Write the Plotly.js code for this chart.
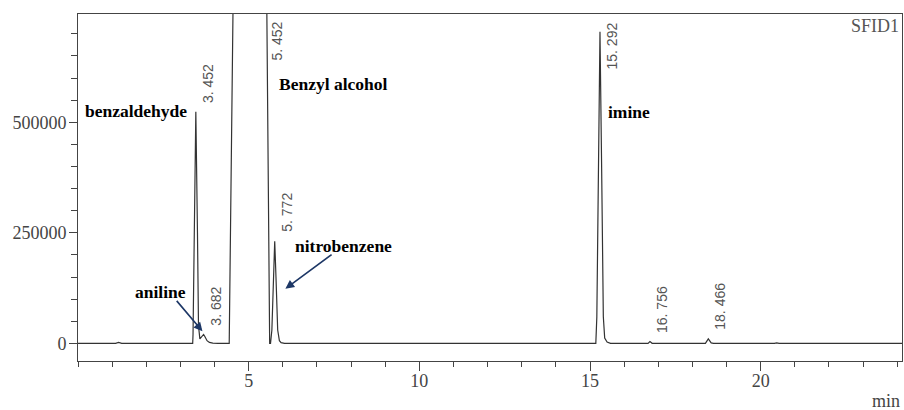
<!DOCTYPE html>
<html>
<head>
<meta charset="utf-8">
<script src="https://cdn.plot.ly/plotly-3.0.1.min.js"></script>
<style>html,body{margin:0;padding:0;background:#fff}#chart{width:904px;height:410px}</style>
</head>
<body>
<div id="chart"></div>
<script>
// Chromatogram trace (retention time in min, signal)
const timeMin = [0, 1.10, 1.19, 1.28, 3.30, 3.36, 3.37, 3.40, 3.452, 3.50, 3.53, 3.57, 3.62, 3.68, 3.72, 3.78, 3.85, 3.95, 4.10,
  4.43, 4.545, 4.80, 5.452, 5.48, 5.531, 5.615, 5.64, 5.68, 5.72, 5.763, 5.80, 5.85, 5.90, 5.95, 6.05,
  7.30, 7.39, 7.48, 10.30, 10.40, 10.50, 10.55, 10.60, 10.65,
  15.10, 15.17, 15.20, 15.25, 15.292, 15.34, 15.39, 15.43, 15.50, 15.60,
  16.70, 16.756, 16.82, 18.38, 18.466, 18.55, 18.62,
  20.40, 20.47, 20.54, 20.72, 20.77, 20.82, 23.38, 23.44, 23.52, 24.20];
const signal = [0, 0, 2000, 0, 0, 0, 20000, 250000, 524000, 250000, 40000, 10000, 15000, 20000, 15000, 6000, 2000, 500, 0,
  0, 780000, 1500000, 2500000, 1500000, 760000, 0, 0, 30000, 150000, 231000, 150000, 30000, 6000, 1500, 0,
  0, 1500, 0, 0, 1500, 0, 1200, 0, 0,
  0, 0, 60000, 450000, 705000, 400000, 60000, 12000, 3000, 0,
  0, 4000, 0, 0, 10000, 1000, 0,
  0, 1200, 0, 0, 1200, 0, 0, 1500, 0, 0];

// Integrated peak labels
const peakTimes = [3.452, 3.682, 5.452, 5.772, 15.292, 16.756, 18.466];
const peakApex = [524000, 20000, 2500000, 231000, 705000, 4000, 10000];
const peakLabels = ['3. 452', '3. 682', '5. 452', '5. 772', '15. 292', '16. 756', '18. 466'];

// Compound names
const compoundNames = ['benzaldehyde', 'aniline', 'Benzyl alcohol', 'nitrobenzene', 'imine'];

// Axis ticks
const yTickVals = [0, 250000, 500000];
const yTickText = ['0', '250000', '500000'];
const xTickVals = [5, 10, 15, 20];
const xTickText = ['5', '10', '15', '20'];

const yRange = [-40000, 745000];
const xRange = [0, 24.14];

const annotations = [];
peakTimes.forEach((t, i) => {
  const clamp = peakApex[i] > 600000;
  const a = {
    x: t, xref: 'x', xshift: 12, xanchor: 'center',
    text: peakLabels[i], textangle: -90, showarrow: false,
    font: {family: 'Liberation Sans, Arial, sans-serif', size: 14, color: '#555'}
  };
  if (clamp) { a.yref = 'paper'; a.y = 1; a.yanchor = 'top'; a.yshift = -6; }
  else { a.yref = 'y'; a.y = peakApex[i]; a.yanchor = 'bottom'; a.yshift = 7; }
  annotations.push(a);
});

const nameFont = {family: 'Liberation Serif, Times New Roman, serif', size: 17.5, color: '#000', weight: 'bold'};
const namePos = [
  {x: 3.26, y: 526000, xanchor: 'right'},
  {x: 1.60, y: 117000, xanchor: 'left'},
  {x: 5.83, y: 587000, xanchor: 'left'},
  {x: 6.29, y: 221000, xanchor: 'left'},
  {x: 15.47, y: 524000, xanchor: 'left'}
];
compoundNames.forEach((n, i) => {
  annotations.push(Object.assign({xref: 'x', yref: 'y', yanchor: 'middle', text: '<b>' + n + '</b>', showarrow: false, font: nameFont}, namePos[i]));
});

// arrows (head -> tail)
const arrowColor = '#1d3766';
[[3.646, 27100, 2.855, 99400], [6.076, 123500, 7.473, 203300]].forEach(p => {
  annotations.push({x: p[0], y: p[1], ax: p[2], ay: p[3], xref: 'x', yref: 'y', axref: 'x', ayref: 'y',
    text: '', showarrow: true, arrowhead: 2, arrowsize: 1.1, arrowwidth: 1.6, arrowcolor: arrowColor, standoff: 0, startstandoff: 0});
});

annotations.push({xref: 'paper', yref: 'paper', x: 1, y: 1, xanchor: 'right', yanchor: 'top', xshift: -1, yshift: 0,
  text: 'SFID1', showarrow: false, font: {family: 'Liberation Serif, serif', size: 18, color: '#555'}});
annotations.push({xref: 'paper', yref: 'paper', x: 1, y: 0, xanchor: 'right', yanchor: 'middle', xshift: 0, yshift: -40,
  text: 'min', showarrow: false, font: {family: 'Liberation Serif, serif', size: 18, color: '#444'}});

const trace = {
  x: timeMin, y: signal, type: 'scatter', mode: 'lines',
  line: {color: '#333', width: 1.2}, hoverinfo: 'skip'
};

const tickFont = {family: 'Liberation Serif, Times New Roman, serif', size: 18, color: '#444'};

const layout = {
  width: 904, height: 410,
  margin: {l: 78, r: 2, t: 14, b: 49},
  paper_bgcolor: '#fff', plot_bgcolor: '#fff',
  showlegend: false,
  xaxis: {
    range: xRange, showgrid: false, zeroline: false,
    showline: true, mirror: true, linecolor: '#444', linewidth: 1,
    ticks: 'outside', ticklen: 9, tickcolor: '#444', tickwidth: 1,
    tickmode: 'array', tickvals: xTickVals, ticktext: xTickText, tickfont: tickFont,
    ticklabelstandoff: -6,
    minor: {dtick: 1, tick0: 0, ticks: 'outside', ticklen: 5, tickcolor: '#444', showgrid: false}
  },
  yaxis: {
    range: yRange, showgrid: false, zeroline: false,
    showline: true, mirror: true, linecolor: '#444', linewidth: 1,
    ticks: 'outside', ticklen: 8, tickcolor: '#444', tickwidth: 1,
    tickmode: 'array', tickvals: yTickVals, ticktext: yTickText, tickfont: tickFont,
    ticklabelstandoff: -1,
    minor: {dtick: 50000, tick0: 0, ticks: 'outside', ticklen: 6, tickcolor: '#444', showgrid: false}
  },
  annotations: annotations
};

Plotly.newPlot('chart', [trace], layout, {staticPlot: true, displayModeBar: false});
</script>
</body>
</html>
